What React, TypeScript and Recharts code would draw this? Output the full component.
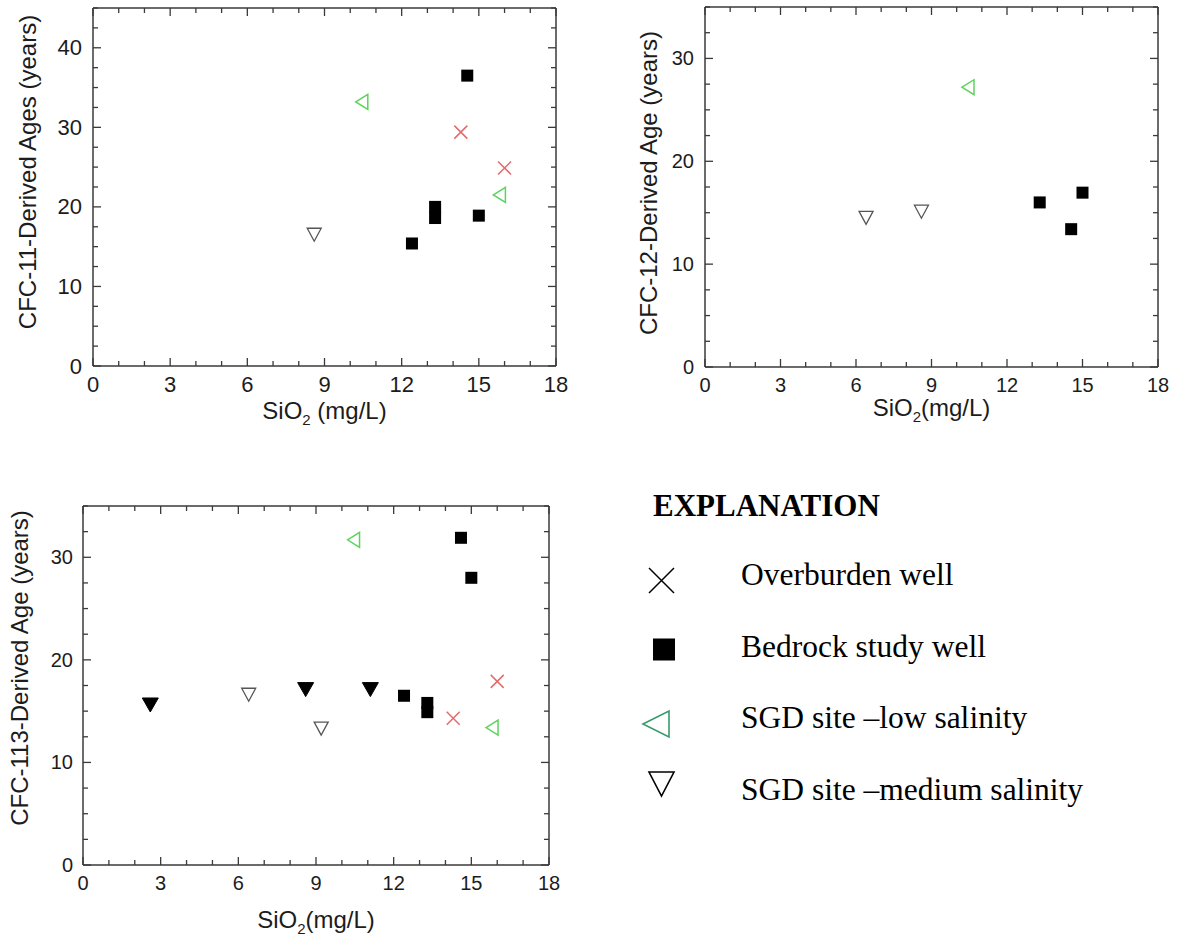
import { ScatterChart, Scatter, XAxis, YAxis, Label } from 'recharts';

// SiO2 (mg/L) vs CFC-derived age (years), one array per series and panel
const overburden11 = [{ x: 14.3, y: 29.4 }, { x: 16.0, y: 24.9 }];
const bedrock11 = [
  { x: 14.55, y: 36.5 },
  { x: 13.3, y: 20.0 },
  { x: 13.3, y: 18.6 },
  { x: 15.0, y: 18.9 },
  { x: 12.4, y: 15.4 },
];
const lowSalinity11 = [{ x: 10.45, y: 33.2 }, { x: 15.8, y: 21.5 }];
const medSalinity11 = [{ x: 8.6, y: 16.5 }];

const bedrock12 = [{ x: 13.3, y: 16.0 }, { x: 15.0, y: 16.95 }, { x: 14.55, y: 13.4 }];
const lowSalinity12 = [{ x: 10.45, y: 27.2 }];
const medSalinity12 = [{ x: 6.4, y: 14.5 }, { x: 8.6, y: 15.1 }];

const overburden113 = [{ x: 14.3, y: 14.3 }, { x: 16.0, y: 17.9 }];
const bedrock113 = [
  { x: 14.6, y: 31.9 },
  { x: 15.0, y: 28.0 },
  { x: 12.4, y: 16.5 },
  { x: 13.3, y: 15.8 },
  { x: 13.3, y: 14.9 },
];
const lowSalinity113 = [{ x: 10.45, y: 31.7 }, { x: 15.8, y: 13.4 }];
const medSalinity113 = [{ x: 6.4, y: 16.6 }, { x: 9.2, y: 13.3 }];
const filledTri113 = [{ x: 2.6, y: 15.6 }, { x: 8.6, y: 17.1 }, { x: 11.1, y: 17.1 }];

// axis ticks (minor + major)
const X_TICKS = [0, 1, 2, 3, 4, 5, 6, 7, 8, 9, 10, 11, 12, 13, 14, 15, 16, 17, 18];
const X_MAJOR = [0, 3, 6, 9, 12, 15, 18];
const Y_TICKS_45 = [0, 2.5, 5, 7.5, 10, 12.5, 15, 17.5, 20, 22.5, 25, 27.5, 30, 32.5, 35, 37.5, 40, 42.5, 45];
const Y_TICKS_35 = [0, 2.5, 5, 7.5, 10, 12.5, 15, 17.5, 20, 22.5, 25, 27.5, 30, 32.5, 35];
const Y_MAJOR = [0, 10, 20, 30, 40];

const LEGEND_ITEMS = [
  { label: 'Overburden well', marker: 'cross' },
  { label: 'Bedrock study well', marker: 'square' },
  { label: 'SGD site \u2013low salinity', marker: 'left' },
  { label: 'SGD site \u2013medium salinity', marker: 'down' },
];

const SANS = '"Liberation Sans", Arial, sans-serif';
const SERIF = '"Liberation Serif", "Times New Roman", serif';
const FRAME = '#3a3a3a';
const TEXT = '#1c1c1c';
const RED = '#e36b6b';
const GREEN = '#5ed35e';

const Cross = ({ cx, cy, r = 6.5, color = RED, sw = 1.5 }: any) => (
  <path
    d={`M${cx - r},${cy - r}L${cx + r},${cy + r}M${cx - r},${cy + r}L${cx + r},${cy - r}`}
    stroke={color}
    strokeWidth={sw}
    fill="none"
  />
);

const Square = ({ cx, cy, s = 12 }: any) => (
  <rect x={cx - s / 2} y={cy - s / 2} width={s} height={s} fill="#000" />
);

const LeftTri = ({ cx, cy, w = 12, h = 15, color = GREEN, sw = 1.5 }: any) => (
  <path
    d={`M${cx - w / 2},${cy}L${cx + w / 2},${cy - h / 2}L${cx + w / 2},${cy + h / 2}Z`}
    fill="none"
    stroke={color}
    strokeWidth={sw}
  />
);

const DownTri = ({ cx, cy, w = 14, h = 13, fill = 'none', stroke = '#555', sw = 1.3 }: any) => (
  <path
    d={`M${cx - w / 2},${cy - h / 2}L${cx + w / 2},${cy - h / 2}L${cx},${cy + h / 2}Z`}
    fill={fill}
    stroke={stroke}
    strokeWidth={sw}
  />
);

const shapes: Record<string, (p: any) => any> = {
  cross: (p) => <Cross cx={p.cx} cy={p.cy} />,
  square: (p) => <Square cx={p.cx} cy={p.cy} />,
  left: (p) => <LeftTri cx={p.cx} cy={p.cy} />,
  down: (p) => <DownTri cx={p.cx} cy={p.cy} />,
  downFilled: (p) => <DownTri cx={p.cx} cy={p.cy} w={16} h={14} fill="#000" stroke="#000" sw={1} />,
  none: () => <g />,
};

type Side = 'bottom' | 'top' | 'left' | 'right';

// inward ticks on all four sides, labels only on bottom/left majors
function makeTick(side: Side, majors: number[], fontSize: number, gap: number) {
  return (props: any) => {
    const { x, y, payload } = props;
    const v = payload.value;
    const major = majors.includes(v);
    const len = major ? 8 : 5;
    let x2 = x;
    let y2 = y;
    if (side === 'bottom') y2 = y - len;
    else if (side === 'top') y2 = y + len;
    else if (side === 'left') x2 = x + len;
    else x2 = x - len;
    let label = null;
    if (major && side === 'bottom') {
      label = (
        <text x={x} y={y + gap} textAnchor="middle" dominantBaseline="central" fontSize={fontSize} fontFamily={SANS} fill={TEXT}>
          {v}
        </text>
      );
    } else if (major && side === 'left') {
      label = (
        <text x={x - gap} y={y} textAnchor="end" dominantBaseline="central" fontSize={fontSize} fontFamily={SANS} fill={TEXT}>
          {v}
        </text>
      );
    }
    return (
      <g>
        <line x1={x} y1={y} x2={x2} y2={y2} stroke={FRAME} strokeWidth={1.3} />
        {label}
      </g>
    );
  };
}

interface PanelProps {
  left: number;
  top: number;
  width: number;
  height: number;
  plot: { left: number; top: number; right: number; bottom: number };
  yMax: number;
  yTicks: number[];
  tickFont: number;
  yGap: number;
  yTitle: string;
  yTitlePos: { x: number; y: number };
  xTitleSpace: boolean;
  xTitleBaseline: number;
  series: { name: string; data: { x: number; y: number }[]; shape: string }[];
}

function Panel(p: PanelProps) {
  const axisLine = { stroke: FRAME, strokeWidth: 1.5 };
  const xCenter = (p.plot.left + p.plot.right) / 2;
  const yTitle = () => (
    <text
      x={p.yTitlePos.x}
      y={p.yTitlePos.y}
      transform={`rotate(-90 ${p.yTitlePos.x} ${p.yTitlePos.y})`}
      textAnchor="middle"
      dominantBaseline="central"
      fontSize={24}
      fontFamily={SANS}
      fill={TEXT}
    >
      {p.yTitle}
    </text>
  );
  const xTitle = () => (
    <text x={xCenter} y={p.xTitleBaseline} textAnchor="middle" fontSize={24} fontFamily={SANS} fill={TEXT}>
      <tspan>SiO</tspan>
      <tspan dy={6} fontSize={15}>2</tspan>
      <tspan dy={-6}>{p.xTitleSpace ? ' (mg/L)' : '(mg/L)'}</tspan>
    </text>
  );
  // top/right frame axes take a 1px band so that they are drawn
  return (
    <div style={{ position: 'absolute', left: p.left, top: p.top }}>
      <ScatterChart
        width={p.width}
        height={p.height}
        margin={{ top: p.plot.top - 1, right: p.width - p.plot.right - 1, left: 0, bottom: 0 }}
      >
        <XAxis
          type="number"
          dataKey="x"
          domain={[0, 18]}
          ticks={X_TICKS}
          interval={0}
          height={p.height - p.plot.bottom}
          tickSize={0}
          tickMargin={0}
          tickLine={false}
          axisLine={axisLine}
          tick={makeTick('bottom', X_MAJOR, p.tickFont, 18)}
        >
          <Label content={xTitle} />
        </XAxis>
        <XAxis
          xAxisId="top"
          orientation="top"
          type="number"
          dataKey="x"
          domain={[0, 18]}
          ticks={X_TICKS}
          interval={0}
          height={1}
          tickSize={0}
          tickMargin={0}
          tickLine={false}
          axisLine={axisLine}
          tick={makeTick('top', X_MAJOR, p.tickFont, 0)}
        />
        <YAxis
          type="number"
          dataKey="y"
          domain={[0, p.yMax]}
          ticks={p.yTicks}
          interval={0}
          width={p.plot.left}
          tickSize={0}
          tickMargin={0}
          tickLine={false}
          axisLine={axisLine}
          tick={makeTick('left', Y_MAJOR, p.tickFont, p.yGap)}
        >
          <Label content={yTitle} />
        </YAxis>
        <YAxis
          yAxisId="right"
          orientation="right"
          type="number"
          dataKey="y"
          domain={[0, p.yMax]}
          ticks={p.yTicks}
          interval={0}
          width={1}
          tickSize={0}
          tickMargin={0}
          tickLine={false}
          axisLine={axisLine}
          tick={makeTick('right', Y_MAJOR, p.tickFont, 0)}
        />
        {p.series.map((s) => (
          <Scatter key={s.name} name={s.name} data={s.data} shape={shapes[s.shape]} isAnimationActive={false} />
        ))}
        {/* invisible copy that binds the top and right frame axes */}
        <Scatter
          name="frame"
          xAxisId="top"
          yAxisId="right"
          data={p.series[0].data}
          shape={shapes.none}
          isAnimationActive={false}
        />
      </ScatterChart>
    </div>
  );
}

function Explanation() {
  const baselines = [585, 657, 728, 800];
  const markers = [
    <Cross key="c" cx={661.5} cy={580.5} r={12.5} color="#000" sw={1.5} />,
    <Square key="s" cx={664} cy={649.5} s={22} />,
    <LeftTri key="l" cx={656} cy={724} w={26} h={26} color="#3a9a6a" sw={1.6} />,
    <DownTri key="d" cx={661.5} cy={784} w={25} h={24} stroke="#000" sw={1.6} />,
  ];
  return (
    <svg width={1187} height={938} style={{ position: 'absolute', left: 0, top: 0, pointerEvents: 'none' }}>
      <text x={653} y={516} fontSize={31} fontWeight="bold" fontFamily={SERIF} fill="#000">
        EXPLANATION
      </text>
      {LEGEND_ITEMS.map((item, i) => (
        <g key={item.label}>
          {markers[i]}
          <text x={741} y={baselines[i]} fontSize={31.5} fontFamily={SERIF} fill="#000">
            {item.label}
          </text>
        </g>
      ))}
    </svg>
  );
}

export default function App() {
  return (
    <div style={{ position: 'absolute', left: 0, top: 0, width: 1187, height: 938, background: '#fff' }}>
      <Panel
        left={0}
        top={0}
        width={590}
        height={430}
        plot={{ left: 93, top: 8, right: 556, bottom: 366 }}
        yMax={45}
        yTicks={Y_TICKS_45}
        tickFont={22}
        yGap={11}
        yTitle="CFC-11-Derived Ages (years)"
        yTitlePos={{ x: 27, y: 172 }}
        xTitleSpace={true}
        xTitleBaseline={419}
        series={[
          { name: 'Overburden well', data: overburden11, shape: 'cross' },
          { name: 'Bedrock study well', data: bedrock11, shape: 'square' },
          { name: 'SGD site low salinity', data: lowSalinity11, shape: 'left' },
          { name: 'SGD site medium salinity', data: medSalinity11, shape: 'down' },
        ]}
      />
      <Panel
        left={590}
        top={0}
        width={597}
        height={430}
        plot={{ left: 115, top: 7, right: 568, bottom: 367 }}
        yMax={35}
        yTicks={Y_TICKS_35}
        tickFont={20}
        yGap={11}
        yTitle="CFC-12-Derived Age (years)"
        yTitlePos={{ x: 58, y: 183 }}
        xTitleSpace={false}
        xTitleBaseline={416}
        series={[
          { name: 'Bedrock study well', data: bedrock12, shape: 'square' },
          { name: 'SGD site low salinity', data: lowSalinity12, shape: 'left' },
          { name: 'SGD site medium salinity', data: medSalinity12, shape: 'down' },
        ]}
      />
      <Panel
        left={0}
        top={480}
        width={590}
        height={458}
        plot={{ left: 83, top: 26, right: 549, bottom: 385 }}
        yMax={35}
        yTicks={Y_TICKS_35}
        tickFont={20}
        yGap={10}
        yTitle="CFC-113-Derived Age (years)"
        yTitlePos={{ x: 19, y: 188 }}
        xTitleSpace={false}
        xTitleBaseline={448}
        series={[
          { name: 'Overburden well', data: overburden113, shape: 'cross' },
          { name: 'Bedrock study well', data: bedrock113, shape: 'square' },
          { name: 'SGD site low salinity', data: lowSalinity113, shape: 'left' },
          { name: 'SGD site medium salinity', data: medSalinity113, shape: 'down' },
          { name: 'Filled triangle', data: filledTri113, shape: 'downFilled' },
        ]}
      />
      <Explanation />
    </div>
  );
}
